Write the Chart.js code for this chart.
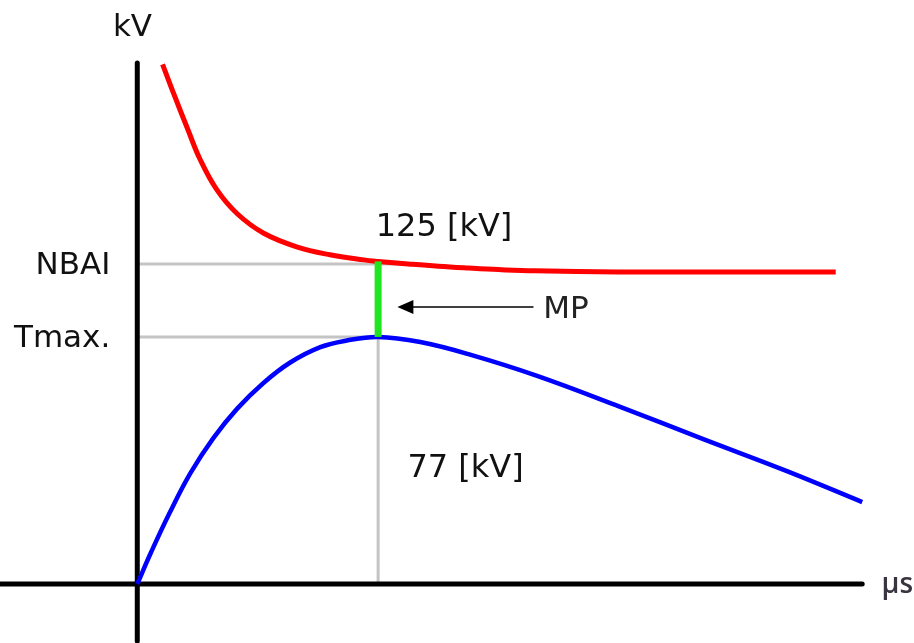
<!DOCTYPE html>
<html>
<head>
<meta charset="utf-8">
<script src="https://cdn.jsdelivr.net/npm/chart.js@4/dist/chart.umd.min.js"></script>
<style>
  html, body { margin: 0; padding: 0; background: #fff; }
  #wrap { width: 914px; height: 643px; }
</style>
</head>
<body>
<div id="wrap"><canvas id="chart" width="914" height="643"></canvas></div>
<script>
// ===== Data (time in µs, voltage in kV) =====
const redTime = [0.21, 0.30, 0.42, 0.52, 0.66, 0.83, 1.05, 1.33, 1.60, 1.88, 2.0, 2.25, 2.5, 2.75, 3.0, 3.3, 4.0, 5.0, 5.8];
const redKV   = [203, 191.8, 177.5, 166.0, 154.0, 144.6, 137.0, 131.6, 128.6, 126.6, 126.0, 125.0, 124.1, 123.4, 122.8, 122.3, 121.9, 121.9, 121.9];

const blueTime = [0, 0.11, 0.27, 0.44, 0.63, 0.83, 1.05, 1.27, 1.52, 1.74, 2.0, 2.35, 2.77, 3.32, 4.01, 4.70, 5.40, 6.02];
const blueKV   = [0, 11.9, 27.9, 43.2, 56.9, 68.5, 78.6, 86.5, 92.5, 95.1, 96.5, 94.5, 89.5, 81.3, 69.2, 56.6, 44.0, 32.0];

// y "ticks" of the sketch
const tickValues = [125, 96.5];
const tickLabels = ['NBAI', 'Tmax.'];

// margin of protection (MP) sits at this time
const mpTime = 2.0;

// axis extents
const timeRange = [-1.14, 6.45];
const kvRange = [-23.05, 228.1];
const xAxisEnd = 6.02;
const yAxisTop = 203.5;
const yAxisBottom = -22.3;

// arrow pointing at the MP bar
const arrowTime = [3.29, 2.16];
const arrowKV = 108.2;

// free text on the sketch
const notes = [
  { text: 'kV',       x: -0.04, y: 217,   align: 'center', base: 'middle',     font: '31px "DejaVu Sans"', color: '#111' },
  { text: '125 [kV]', x: 1.98,  y: 135.9, align: 'left',   base: 'alphabetic', font: '32px "DejaVu Sans"', color: '#111' },
  { text: '77 [kV]',  x: 2.243, y: 41.8,  align: 'left',   base: 'alphabetic', font: '32px "DejaVu Sans"', color: '#111' },
  { text: 'MP',       x: 3.372, y: 103.9, align: 'left',   base: 'alphabetic', font: '31px "DejaVu Sans"', color: '#222' },
  { text: 'µs',       x: 6.18,  y: -3.5,  align: 'left',   base: 'alphabetic', font: '600 28px "Open Sans"', color: '#3a3440' }
];

const pts = (xs, ys) => xs.map((x, i) => ({ x: x, y: ys[i] }));

// ===== Text + arrow head plugin =====
const sketchText = {
  id: 'sketchText',
  afterDatasetsDraw(chart) {
    const ctx = chart.ctx;
    const xs = chart.scales.x, ys = chart.scales.y;
    ctx.save();

    // tick labels, right aligned left of the vertical axis
    ctx.font = '31px "DejaVu Sans"';
    ctx.fillStyle = '#111';
    ctx.textAlign = 'right';
    ctx.textBaseline = 'middle';
    tickValues.forEach((v, i) => {
      ctx.fillText(tickLabels[i], xs.getPixelForValue(0) - 27, ys.getPixelForValue(v) + 2);
    });

    notes.forEach(n => {
      ctx.font = n.font;
      ctx.fillStyle = n.color;
      ctx.textAlign = n.align;
      ctx.textBaseline = n.base;
      ctx.fillText(n.text, xs.getPixelForValue(n.x), ys.getPixelForValue(n.y));
    });

    // arrow head
    const tx = xs.getPixelForValue(arrowTime[1]);
    const ty = ys.getPixelForValue(arrowKV);
    ctx.fillStyle = '#000';
    ctx.beginPath();
    ctx.moveTo(tx, ty);
    ctx.lineTo(tx + 16, ty - 7);
    ctx.lineTo(tx + 16, ty + 7);
    ctx.closePath();
    ctx.fill();
    ctx.restore();
  }
};

document.addEventListener('DOMContentLoaded', () => {
  const ctx = document.getElementById('chart').getContext('2d');
  const grey = '#c4c4c4';

  new Chart(ctx, {
    type: 'line',
    data: {
      datasets: [
        { // MP bar
          data: [{ x: mpTime, y: tickValues[1] }, { x: mpTime, y: redKV[redTime.indexOf(mpTime)] }],
          borderColor: '#1fe61f', borderWidth: 7, order: 0
        },
        { // arrow shaft
          data: [{ x: arrowTime[0], y: arrowKV }, { x: arrowTime[1] + 0.05, y: arrowKV }],
          borderColor: '#000', borderWidth: 1.5, order: 0
        },
        { // withstand voltage curve
          data: pts(blueTime, blueKV),
          borderColor: '#0000ff', borderWidth: 4.5, tension: 0.4, order: 1
        },
        { // insulation level curve
          data: pts(redTime, redKV),
          borderColor: '#ff0000', borderWidth: 5, tension: 0.4, order: 2
        },
        { // horizontal axis
          data: [{ x: timeRange[0], y: 0 }, { x: xAxisEnd, y: 0 }],
          borderColor: '#000', borderWidth: 5, borderCapStyle: 'round', order: 3
        },
        { // vertical axis
          data: [{ x: 0, y: yAxisBottom }, { x: 0, y: yAxisTop }],
          borderColor: '#000', borderWidth: 5, borderCapStyle: 'round', order: 3
        },
        { // NBAI guide
          data: [{ x: 0, y: tickValues[0] }, { x: 2.24, y: tickValues[0] }],
          borderColor: grey, borderWidth: 3, order: 4
        },
        { // Tmax guide
          data: [{ x: 0, y: tickValues[1] }, { x: mpTime, y: tickValues[1] }],
          borderColor: grey, borderWidth: 3, order: 4
        },
        { // drop line to time axis
          data: [{ x: mpTime, y: 0 }, { x: mpTime, y: tickValues[1] }],
          borderColor: grey, borderWidth: 3, order: 4
        }
      ]
    },
    options: {
      responsive: false,
      animation: false,
      layout: { padding: 0 },
      elements: { point: { radius: 0 } },
      scales: {
        x: { type: 'linear', min: timeRange[0], max: timeRange[1], display: false },
        y: { type: 'linear', min: kvRange[0], max: kvRange[1], display: false }
      },
      plugins: {
        legend: { display: false },
        tooltip: { enabled: false }
      }
    },
    plugins: [sketchText]
  });
});
</script>
</body>
</html>
